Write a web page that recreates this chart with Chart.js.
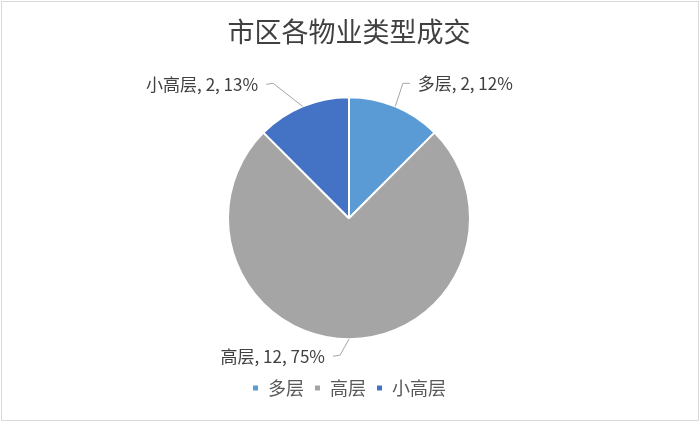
<!DOCTYPE html>
<html>
<head>
<meta charset="utf-8">
<script src="https://cdn.jsdelivr.net/npm/chart.js@4/dist/chart.umd.min.js"></script>
<style>
  html, body { margin: 0; padding: 0; background: #ffffff; }
  #wrap { width: 700px; height: 422px; position: relative; }
</style>
</head>
<body>
<div id="wrap"><canvas id="c" width="700" height="422"></canvas></div>
<script>
const categories = ['多层', '高层', '小高层'];
const values = [2, 12, 2];
const percentLabels = ['12%', '75%', '13%'];
const sliceColors = ['#5b9bd5', '#a5a5a5', '#4472c4'];
const chartTitle = '市区各物业类型成交';

const FONT = '"Noto Sans CJK SC", "Noto Sans", sans-serif';

const bgPlugin = {
  id: 'bg',
  beforeDraw(chart) {
    const ctx = chart.ctx;
    ctx.save();
    ctx.fillStyle = '#ffffff';
    ctx.fillRect(0, 0, chart.width, chart.height);
    ctx.strokeStyle = '#d9d9d9';
    ctx.lineWidth = 1;
    ctx.strokeRect(1.5, 1.5, chart.width - 3, chart.height - 3);
    ctx.restore();
  }
};

const leaderLabels = {
  id: 'leaderLabels',
  afterDatasetsDraw(chart, args, opts) {
    const ctx = chart.ctx;
    const meta = chart.getDatasetMeta(0);
    ctx.save();
    ctx.font = opts.font;
    ctx.textBaseline = 'middle';
    meta.data.forEach((arc, i) => {
      const p = arc.getProps(['x', 'y', 'startAngle', 'endAngle', 'outerRadius'], true);
      const mid = (p.startAngle + p.endAngle) / 2;
      const sx = p.x + Math.cos(mid) * p.outerRadius;
      const sy = p.y + Math.sin(mid) * p.outerRadius;
      const nudge = opts.nudges[i] || [0, 0];
      const ex = p.x + Math.cos(mid) * (p.outerRadius + opts.length) + nudge[0];
      const ey = p.y + Math.sin(mid) * (p.outerRadius + opts.length) + nudge[1];
      const right = Math.cos(mid) > 0.01;
      const hx = ex + (right ? opts.tail : -opts.tail);
      ctx.strokeStyle = opts.lineColor;
      ctx.lineWidth = 1;
      ctx.beginPath();
      ctx.moveTo(sx, sy);
      ctx.lineTo(ex, ey);
      ctx.lineTo(hx, ey + (right ? 0 : 1));
      ctx.stroke();
      const text = chart.data.labels[i] + ', ' + chart.data.datasets[0].data[i] + ', ' + percentLabels[i];
      ctx.fillStyle = opts.color;
      ctx.textAlign = right ? 'left' : 'right';
      ctx.fillText(text, hx + (right ? opts.gap : -opts.gap), ey + (right ? 0 : 1));
    });
    ctx.restore();
  }
};

new Chart(document.getElementById('c'), {
  type: 'pie',
  data: {
    labels: categories,
    datasets: [{
      data: values,
      backgroundColor: sliceColors,
      borderColor: '#ffffff',
      borderWidth: 2,
      radius: 121
    }]
  },
  options: {
    responsive: false,
    animation: false,
    layout: { padding: { left: 0, right: 2, top: 0, bottom: 15 } },
    plugins: {
      title: {
        display: true,
        text: chartTitle,
        color: '#404040',
        font: { family: FONT, size: 27, weight: 'normal', lineHeight: 1.2 },
        padding: { top: 16, bottom: 19 }
      },
      legend: {
        display: true,
        position: 'bottom',
        labels: {
          boxWidth: 7,
          boxHeight: 7,
          padding: 10,
          color: '#595959',
          font: { family: FONT, size: 18 }
        }
      },
      tooltip: { enabled: false },
      leaderLabels: {
        font: '17px ' + FONT,
        color: '#404040',
        lineColor: '#a6a6a6',
        length: 25,
        tail: 7,
        gap: 8,
        nudges: [[-2, 0], [-9, -9], [-20, 0]]
      }
    }
  },
  plugins: [bgPlugin, leaderLabels]
});
</script>
</body>
</html>
